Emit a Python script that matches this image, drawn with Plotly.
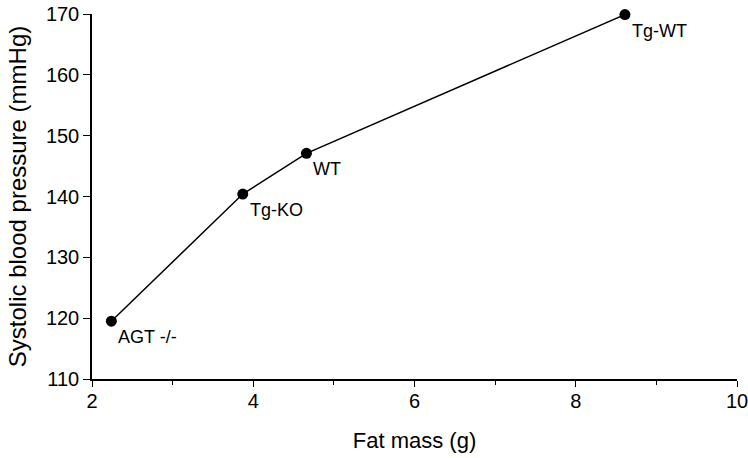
import plotly.graph_objects as go

fat_mass = [2.24, 3.87, 4.66, 8.61]
sbp = [119.5, 140.4, 147.1, 169.9]
groups = ["AGT -/-", "Tg-KO", "WT", "Tg-WT"]

x_ticks = [2, 4, 6, 8, 10]
y_ticks = [110, 120, 130, 140, 150, 160, 170]

FONT = "Liberation Sans, Arial, sans-serif"

fig = go.Figure()
fig.add_trace(go.Scatter(
    x=fat_mass, y=sbp, mode="lines+markers",
    line=dict(color="black", width=1.5),
    marker=dict(color="black", size=11),
    showlegend=False, cliponaxis=False,
))

for xv, yv, g in zip(fat_mass, sbp, groups):
    fig.add_annotation(x=xv, y=yv, text=g, showarrow=False,
                       xanchor="left", yanchor="middle",
                       xshift=5, yshift=-16,
                       font=dict(family=FONT, size=18, color="black"))

fig.update_layout(
    width=748, height=458,
    margin=dict(l=92, r=11, t=14, b=79, autoexpand=False),
    paper_bgcolor="white", plot_bgcolor="white",
    font=dict(family=FONT, size=19, color="black"),
)
fig.update_xaxes(
    range=[2, 10], tickvals=x_ticks, ticktext=[str(v) for v in x_ticks],
    automargin=False, ticklabeloverflow="allow", ticklabelstandoff=-3,
    showgrid=False, zeroline=False, showline=True, linecolor="black", linewidth=1.5,
    ticks="outside", ticklen=6, tickcolor="black", tickwidth=1.2,
    minor=dict(dtick=1, tick0=2, ticks="outside", ticklen=4, tickcolor="black", tickwidth=1, showgrid=False),
    tickfont=dict(size=20), title=dict(text="Fat mass (g)", font=dict(size=22), standoff=22),
)
fig.update_yaxes(
    range=[110, 170], tickvals=y_ticks,
    automargin=False, ticklabeloverflow="allow",
    showgrid=False, zeroline=False, showline=True, linecolor="black", linewidth=1.5,
    ticks="outside", ticklen=7, tickcolor="black", tickwidth=1.2,
    tickfont=dict(size=20), title=dict(text="Systolic blood pressure (mmHg)", font=dict(size=24), standoff=12),
)

fig.write_html("out.html")
